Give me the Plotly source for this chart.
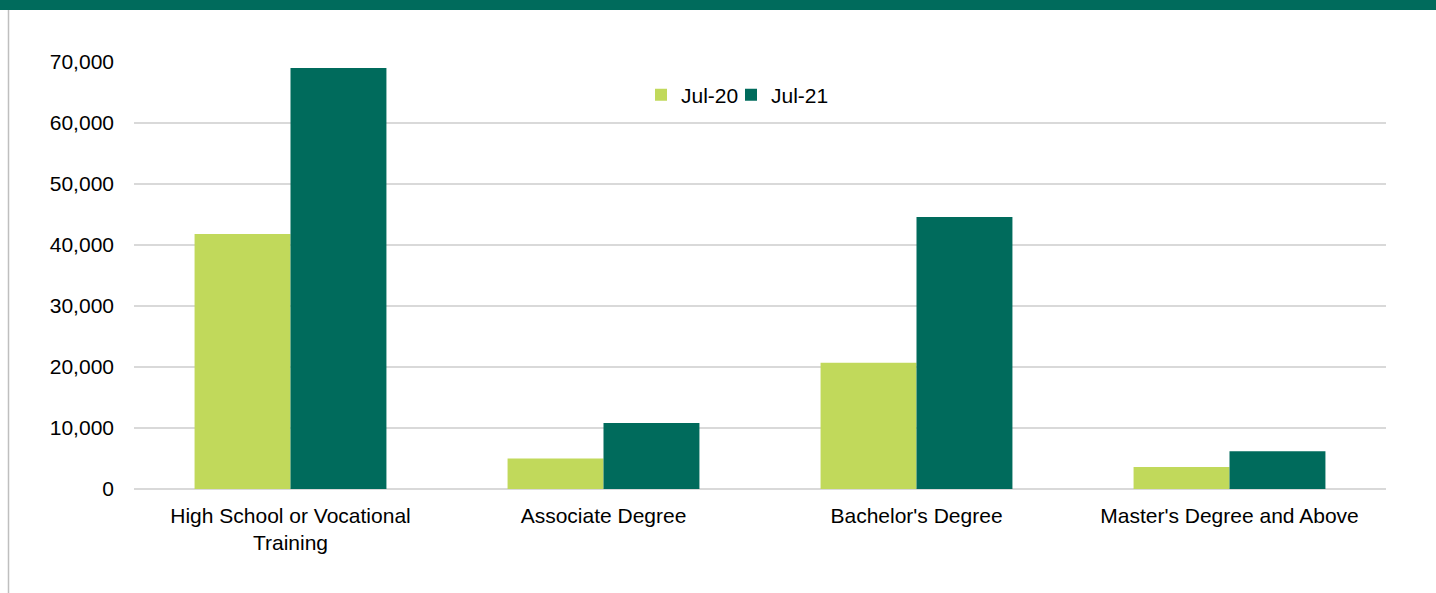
import plotly.graph_objects as go

categories = ["High School or Vocational<br>Training", "Associate Degree", "Bachelor's Degree", "Master's Degree and Above"]
jul20 = [41800, 5000, 20700, 3600]
jul21 = [69000, 10800, 44600, 6200]
series_names = ["Jul-20", "Jul-21"]
tick_vals = [0, 10000, 20000, 30000, 40000, 50000, 60000, 70000]

W, H = 1436, 593
ML, MR, MT, MB = 134, 50, 62, 104
PW = W - ML - MR
PH = H - MT - MB

def px_x(x):
    return (x - ML) / PW

def px_y(y):
    return 1 - (y - MT) / PH

light = "#C1D95B"
dark = "#006B5C"
font = "Liberation Sans, Arial, sans-serif"

fig = go.Figure()
fig.add_trace(go.Bar(x=categories, y=jul20, name=series_names[0], legend="legend",
                     marker=dict(color=light, line=dict(width=0))))
fig.add_trace(go.Bar(x=categories, y=jul21, name=series_names[1], legend="legend2",
                     marker=dict(color=dark, line=dict(width=0))))

leg_common = dict(orientation="h", yanchor="middle", xanchor="left",
                  font=dict(size=21, color="#000000"), bgcolor="rgba(0,0,0,0)",
                  itemwidth=30)

fig.update_layout(
    width=W, height=H,
    margin=dict(l=ML, r=MR, t=MT, b=MB, pad=0),
    paper_bgcolor="white", plot_bgcolor="white",
    barmode="group", bargap=0.387, bargroupgap=0,
    font=dict(family=font, size=21, color="#000000"),
    showlegend=True,
    legend=dict(x=px_x(641), y=px_y(95), **leg_common),
    legend2=dict(x=px_x(731), y=px_y(95), **leg_common),
    xaxis=dict(showgrid=False, showline=False, ticks="", tickfont=dict(size=21),
               ticklabelstandoff=12),
    yaxis=dict(range=[0, 70000], tickvals=tick_vals, tickformat=",", showgrid=True,
               gridcolor="#D9D9D9", gridwidth=2, zeroline=True, zerolinecolor="#D9D9D9",
               zerolinewidth=2, showline=False, ticks="", ticklabelstandoff=19,
               tickfont=dict(size=21)),
    shapes=[
        dict(type="rect", xref="paper", yref="paper", x0=px_x(-5), x1=px_x(W + 5),
             y0=px_y(10), y1=px_y(-5), fillcolor=dark, line=dict(width=0), layer="above"),
        dict(type="line", xref="paper", yref="paper", x0=px_x(8.5), x1=px_x(8.5),
             y0=px_y(10), y1=px_y(H + 5), line=dict(color="#BFBFBF", width=1.5)),
    ],
)

fig.write_html("out.html")
